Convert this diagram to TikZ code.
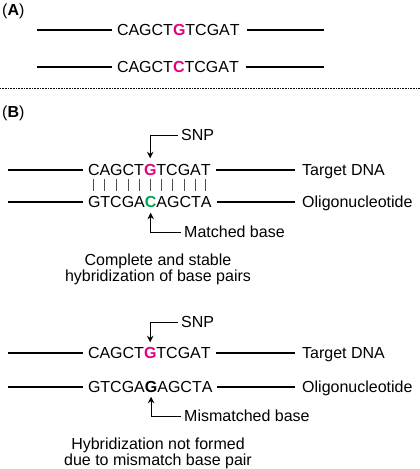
\documentclass[tikz,border=0pt]{standalone}
\usepackage{fontspec}
\setmainfont{Liberation Sans}
\usetikzlibrary{positioning,arrows.meta}

\definecolor{snpmag}{RGB}{230,0,126}
\definecolor{matchgreen}{RGB}{0,166,81}

\newcommand{\snpG}{\textcolor{snpmag}{\bfseries G}}
\newcommand{\snpC}{\textcolor{snpmag}{\bfseries C}}
\newcommand{\okC}{\textcolor{matchgreen}{\bfseries C}}
\newcommand{\badG}{\textbf{G}}

% one strand, letter by letter: #1 name, #2 west end, #3 letters
\newcommand{\strand}[3]{%
  \foreach \b [count=\i] in {#3}{%
    \ifnum\i=1
      \node[nt,anchor=west] (#1\i) at (#2) {\b};
    \else
      \pgfmathtruncatemacro{\j}{\i-1}
      \node[nt,right=0pt of #1\j] (#1\i) {\b};
    \fi
  }}

\begin{document}
\begin{tikzpicture}[x=1pt,y=-1pt,>={Stealth[length=6.5pt,width=6.5pt,inset=2.2pt]},
    every node/.style={font=\fontsize{16}{16}\selectfont},
    nt/.style={inner sep=0pt,outer sep=0pt,text height=11.5pt,text depth=0pt},
    lbl/.style={inner sep=3pt,anchor=west,text height=11.5pt,text depth=0pt},
    dna/.style={line width=1.3pt},
    pair/.style={line width=0.9pt,black!70},
    pointer/.style={->,line width=0.8pt},
    note/.style={align=center,font=\fontsize{16}{15.5}\selectfont}]

\useasboundingbox (0,0) rectangle (420,469);

% panel A
\node[anchor=base west,inner sep=0pt] (pa) at (2,15.5) {(\textbf{A})};
\strand{a}{117,30}{C,A,G,C,T,\snpG,T,C,G,A,T}
\strand{b}{117,67}{C,A,G,C,T,\snpC,T,C,G,A,T}
\coordinate (al) at (37,30);
\coordinate (ar) at (324,30);
\coordinate (bl) at (37,67);
\coordinate (br) at (324,67);
\draw[dna,shorten >=5pt] (al) -- (a1.west);
\draw[dna,shorten <=7pt] (a11.east) -- (ar);
\draw[dna,shorten >=5pt] (bl) -- (b1.west);
\draw[dna,shorten <=7pt] (b11.east) -- (br);

\draw[densely dotted,line width=0.6pt] (0,88) -- (420,88);

% panel B, matched
\node[anchor=base west,inner sep=0pt] (pb) at (2,117.5) {(\textbf{B})};
\strand{t}{88,170}{C,A,G,C,T,\snpG,T,C,G,A,T}
\strand{o}{88,202}{G,T,C,G,A,\okC,A,G,C,T,A}
\node[lbl] (tdna) at (299,170) {Target DNA};
\node[lbl] (oligo) at (299,202) {Oligonucleotide};
\node[lbl] (snp) at (178,135) {SNP};
\node[lbl] (match) at (181,232) {Matched base};
\coordinate (tl) at (8,170);
\coordinate (ol) at (8,202);
\draw[dna,shorten >=5pt] (tl) -- (t1.west);
\draw[dna,shorten <=5pt,shorten >=4pt] (t11.east) -- (tdna.west);
\draw[dna,shorten >=5pt] (ol) -- (o1.west);
\draw[dna,shorten <=5pt,shorten >=4pt] (o11.east) -- (oligo.west);
\foreach \i in {1,...,11}
  \draw[pair] ([yshift=-3pt]t\i.south) -- ([yshift=5pt]t\i.south |- o\i.north);
\draw[pointer,shorten >=6pt] (snp.west) -| (t6.north);
\draw[pointer,shorten >=5pt] (match.west) -| (o6.south);
\node[note] (stable) at (158,269.5) {Complete and stable\\hybridization of base pairs};

% panel B, mismatched
\strand{u}{88,353}{C,A,G,C,T,\snpG,T,C,G,A,T}
\strand{m}{88,387}{G,T,C,G,A,\badG,A,G,C,T,A}
\node[lbl] (tdnab) at (299,353) {Target DNA};
\node[lbl] (oligob) at (299,387) {Oligonucleotide};
\node[lbl] (snpb) at (178,322) {SNP};
\node[lbl] (mismatch) at (181,416) {Mismatched base};
\coordinate (ul) at (8,353);
\coordinate (ml) at (8,387);
\draw[dna,shorten >=5pt] (ul) -- (u1.west);
\draw[dna,shorten <=5pt,shorten >=4pt] (u11.east) -- (tdnab.west);
\draw[dna,shorten >=5pt] (ml) -- (m1.west);
\draw[dna,shorten <=5pt,shorten >=4pt] (m11.east) -- (oligob.west);
\draw[pointer,shorten >=5pt] (snpb.west) -| (u6.north);
\draw[pointer,shorten >=4pt] (mismatch.west) -| (m6.south);
\node[note,font=\fontsize{16}{16}\selectfont] (unstable) at (158,453.5) {Hybridization not formed\\due to mismatch base pair};
\end{tikzpicture}
\end{document}
